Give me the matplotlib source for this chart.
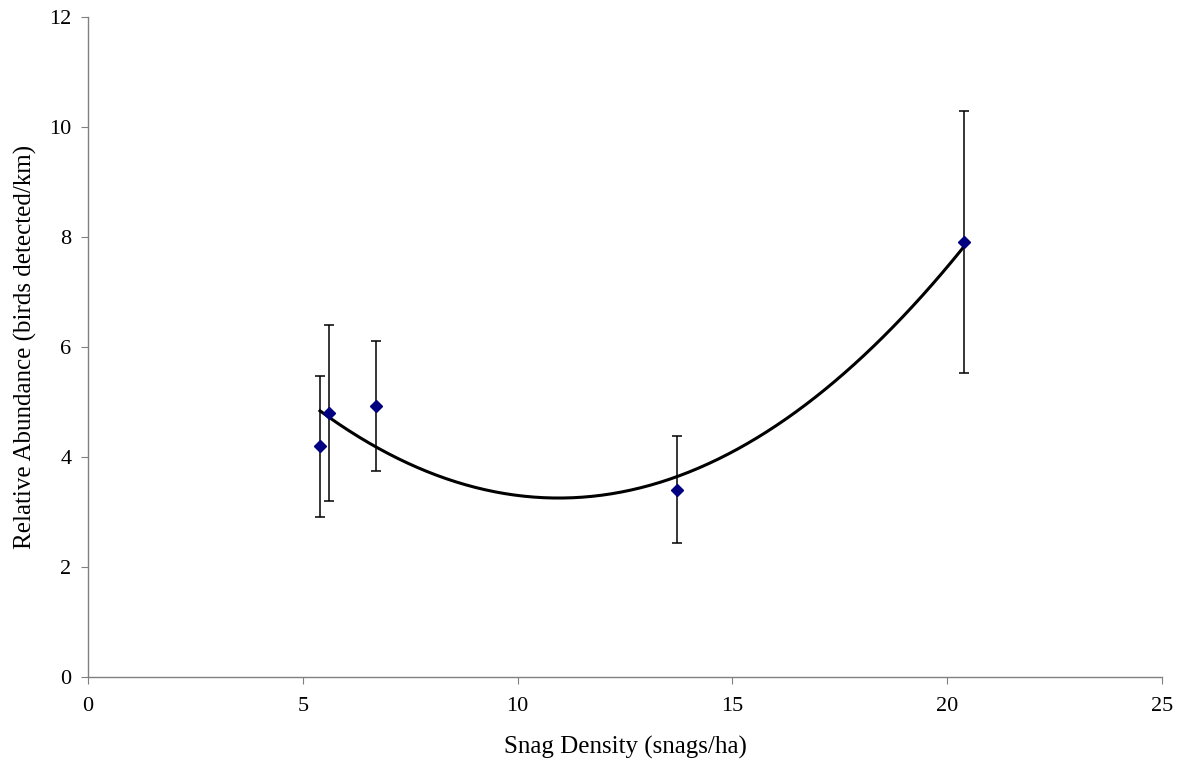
import numpy as np
import matplotlib.pyplot as plt

plt.rcParams['font.family'] = ['Liberation Serif', 'DejaVu Serif']

# data
snag_density = [5.4, 5.6, 6.7, 13.7, 20.4]
abundance = [4.2, 4.8, 4.92, 3.4, 7.9]
err_upper = [5.48, 6.4, 6.1, 4.38, 10.28]
err_lower = [2.9, 3.2, 3.74, 2.43, 5.53]

x = np.array(snag_density)
y = np.array(abundance)
yerr = [y - np.array(err_lower), np.array(err_upper) - y]

fig = plt.figure(figsize=(11.8, 7.65), dpi=100)
ax = fig.add_axes([0.0746, 0.115, 0.9101, 0.863])

# 2nd order polynomial trendline
coef = np.polyfit(x, y, 2)
xs = np.linspace(x.min(), x.max(), 200)
ax.plot(xs, np.polyval(coef, xs), color='black', lw=2.2, zorder=2)

ax.errorbar(x, y, yerr=yerr, fmt='none', ecolor='black', elinewidth=1.1,
            capsize=3.6, capthick=1.1, zorder=3)
ax.plot(x, y, 'D', color='#000080', markersize=6.3, zorder=4)

ax.set_xlim(0, 25)
ax.set_ylim(0, 12)
ax.set_xticks(range(0, 26, 5))
ax.set_yticks(range(0, 13, 2))
for s in ['top', 'right']:
    ax.spines[s].set_visible(False)
for s in ['left', 'bottom']:
    ax.spines[s].set_color('#808080')
    ax.spines[s].set_linewidth(1)
ax.tick_params(direction='out', length=5, color='#808080', labelsize=16)
ax.tick_params(axis='x', pad=9.5)
ax.tick_params(axis='y', pad=7)

ax.set_xlabel('Snag Density (snags/ha)', fontsize=18, labelpad=14)
ax.set_ylabel('Relative Abundance (birds detected/km)', fontsize=18, labelpad=9)

fig.savefig('out.png', dpi=100)
